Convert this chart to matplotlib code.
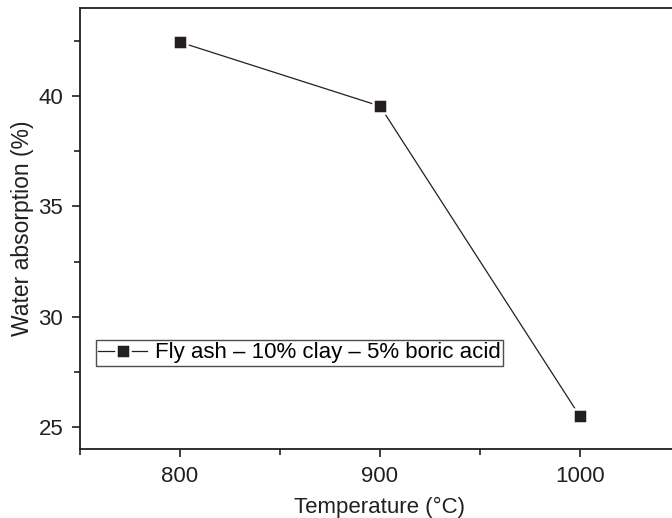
import numpy as np
import matplotlib.pyplot as plt
from matplotlib.ticker import MultipleLocator

plt.rcParams['font.family'] = ['Liberation Sans', 'DejaVu Sans']

temperature = [800, 900, 1000]
absorption = [42.45, 39.55, 25.48]
label = 'Fly ash \u2013 10% clay \u2013 5% boric acid'

fig = plt.figure(figsize=(6.72, 5.18), dpi=100)
ax = fig.add_axes([80/672, 1 - 449/518, 600/672, 441/518])

# white marker edge leaves the small gap between line and square
ax.plot(temperature, absorption, '-', color='#231f20', lw=0.9,
        marker='s', markersize=10.5, markerfacecolor='#231f20',
        markeredgecolor='white', markeredgewidth=1.8, label=label)

ax.set_xlim(750, 1050)
ax.set_ylim(24, 44)
ax.xaxis.set_major_locator(MultipleLocator(100))
ax.xaxis.set_minor_locator(MultipleLocator(50))
ax.yaxis.set_major_locator(MultipleLocator(5))
ax.yaxis.set_minor_locator(MultipleLocator(2.5))

ax.tick_params(which='both', direction='out', width=1.2, labelsize=16,
               colors='#231f20', top=False, right=False)
ax.tick_params(which='major', length=6, pad=6)
ax.tick_params(which='minor', length=4)
for s in ax.spines.values():
    s.set_linewidth(1.3)
    s.set_color('#231f20')

ax.set_xlabel('Temperature (\u00b0C)', fontsize=16, color='#231f20', labelpad=7)
ax.set_ylabel('Water absorption (%)', fontsize=16.5, color='#231f20', labelpad=3)

leg = ax.legend(loc='upper left', bbox_to_anchor=(0.027, 0.247), fontsize=16,
                frameon=True, fancybox=False, handlelength=2.2,
                handletextpad=0.35, borderpad=0.1, borderaxespad=0)
leg.get_frame().set_edgecolor('#231f20')
leg.get_frame().set_linewidth(1.0)

fig.savefig('out.png', dpi=100)
